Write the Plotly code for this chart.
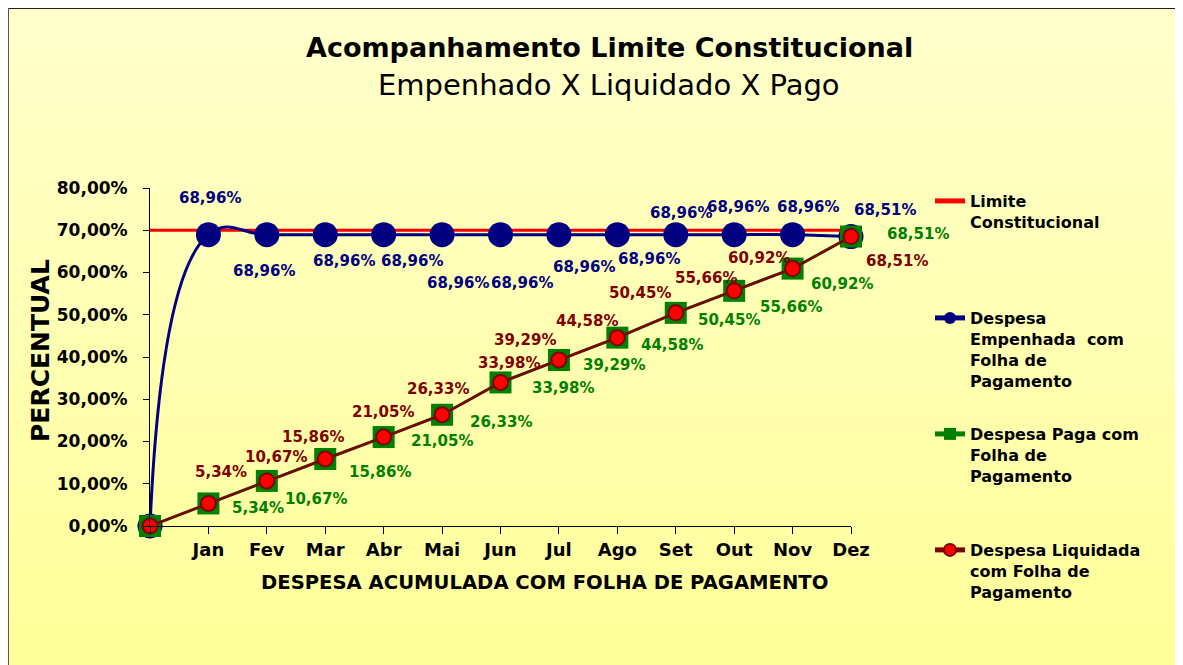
import plotly.graph_objects as go

# ---------------- data ----------------
months = ["", "Jan", "Fev", "Mar", "Abr", "Mai", "Jun", "Jul", "Ago", "Set", "Out", "Nov", "Dez"]
limite = [70.0] * 13
empenhada = [0.0, 68.96, 68.96, 68.96, 68.96, 68.96, 68.96, 68.96, 68.96, 68.96, 68.96, 68.96, 68.51]
paga = [0.0, 5.34, 10.67, 15.86, 21.05, 26.33, 33.98, 39.29, 44.58, 50.45, 55.66, 60.92, 68.51]
liquidada = [0.0, 5.34, 10.67, 15.86, 21.05, 26.33, 33.98, 39.29, 44.58, 50.45, 55.66, 60.92, 68.51]
y_ticks = [0, 10, 20, 30, 40, 50, 60, 70, 80]

# label offsets (pixels: dx right, dy down) for months Jan..Dez
emp_off = [(2, -37), (-3, 36), (19, 26), (28, 26), (16, 48), (21, 48), (25, 32), (32, 24),
           (5, -22), (4, -28), (15, -28), (34, -27)]
liq_off = [(13, -31), (9, -24), (-12, -22), (-1, -25), (-4, -26), (8, -19), (-34, -20),
           (-30, -17), (-36, -20), (-28, -13), (-34, -11), (46, 24)]
pag_off = [(50, 5), (49, 18), (55, 13), (58, 4), (59, 7), (62, 6), (55, 5), (55, 7),
           (53, 7), (57, 16), (49, 15), (67, -3)]

FONT = "DejaVu Sans"
NAVY = "#000080"
GREEN = "#008000"
DRED = "#800000"
RED = "#FF0000"

# page is offset by the default 8px body margin
O = 8
PAGE_W, PAGE_H = 1183, 665
W, H = PAGE_W - O, PAGE_H - O
L, R, T, B = 150 - O, 851 - O, 188 - O, 526 - O


def pct(v):
    return f"{v:.2f}".replace(".", ",") + "%"


xs = list(range(len(months)))

fig = go.Figure()

fig.add_trace(go.Scatter(
    x=xs, y=limite, mode="lines", name="Limite<br>Constitucional",
    line=dict(color=RED, width=3), legend="legend", cliponaxis=False,
    hoverinfo="skip"))

fig.add_trace(go.Scatter(
    x=xs, y=empenhada, mode="lines+markers",
    name="Despesa<br>Empenhada  com<br>Folha de<br>Pagamento",
    line=dict(color=NAVY, width=3, shape="spline", smoothing=1.3),
    marker=dict(symbol="circle", size=25, color=NAVY),
    legend="legend2", cliponaxis=False))

fig.add_trace(go.Scatter(
    x=xs, y=paga, mode="lines+markers",
    name="Despesa Paga com<br>Folha de<br>Pagamento",
    line=dict(color=GREEN, width=3),
    marker=dict(symbol="square", size=22, color=GREEN),
    legend="legend3", cliponaxis=False))

fig.add_trace(go.Scatter(
    x=xs, y=liquidada, mode="lines+markers",
    name="Despesa Liquidada<br>com Folha de<br>Pagamento",
    line=dict(color=DRED, width=2.5),
    marker=dict(symbol="circle", size=15, color=RED, line=dict(color=DRED, width=2)),
    legend="legend4", cliponaxis=False))

annotations = []
for series, offs, col in ((empenhada, emp_off, NAVY), (liquidada, liq_off, DRED), (paga, pag_off, GREEN)):
    for i in range(1, len(series)):
        dx, dy = offs[i - 1]
        annotations.append(dict(
            x=xs[i], y=series[i], xref="x", yref="y", text=pct(series[i]),
            showarrow=False, xshift=dx, yshift=-dy, xanchor="center", yanchor="middle",
            font=dict(family=FONT, size=15, color=col, weight="bold")))

pw, ph = R - L, B - T


def px_x(p):
    # page pixel -> paper coordinate
    return (p - O - L) / pw


def px_y(p):
    return (B - (p - O)) / ph


def page_ann(xp, yp, text, size, angle=0):
    return dict(x=px_x(xp), y=px_y(yp), xref="paper", yref="paper", text=text,
                showarrow=False, xanchor="center", yanchor="middle", textangle=angle,
                font=dict(family=FONT, size=size, color="black"))


annotations.append(page_ann(609, 47, "<b>Acompanhamento Limite Constitucional</b>", 27))
annotations.append(page_ann(609, 85, "Empenhado X Liquidado X Pago", 29))
annotations.append(page_ann(544, 582, "<b>DESPESA ACUMULADA COM FOLHA DE PAGAMENTO</b>", 19.6))
annotations.append(page_ann(40, 351, "<b>PERCENTUAL</b>", 25, -90))

# gradient background bands
shapes = []
N = 60
for k in range(N):
    y0p = O + H * k / N
    y1p = O + H * (k + 1) / N
    t = (k + 0.5) / N
    b = int(round(0xCC + (0x99 - 0xCC) * t))
    shapes.append(dict(type="rect", xref="paper", yref="paper", layer="below",
                       x0=px_x(0), x1=px_x(PAGE_W + 10), y0=px_y(y1p + 1), y1=px_y(y0p - 1),
                       fillcolor=f"rgb(255,255,{b})", line=dict(width=0)))
# frame lines (top, left)
shapes.append(dict(type="line", xref="paper", yref="paper", x0=px_x(7), x1=px_x(PAGE_W + 10),
                   y0=px_y(8), y1=px_y(8), line=dict(color="#222222", width=2)))
shapes.append(dict(type="line", xref="paper", yref="paper", x0=px_x(8), x1=px_x(8),
                   y0=px_y(8), y1=px_y(PAGE_H + 10), line=dict(color="#555555", width=2)))

legend_font = dict(family=FONT, size=16, color="black", weight="bold")


def leg(xpx, ypx):
    return dict(x=(xpx - O) / W, y=1 - (ypx - O) / H, xref="container", yref="container",
                xanchor="left", yanchor="top", font=legend_font, valign="top",
                bgcolor="rgba(0,0,0,0)", itemsizing="constant", borderwidth=0)


fig.update_layout(
    width=W, height=H, autosize=False,
    margin=dict(l=L, r=W - R, t=T, b=H - B, pad=0),
    paper_bgcolor="#FFFF99", plot_bgcolor="rgba(0,0,0,0)",
    showlegend=True,
    legend=leg(930, 184),
    legend2=leg(930, 301),
    legend3=leg(930, 417),
    legend4=leg(930, 533),
    xaxis=dict(range=[0, 12], tickvals=xs, ticktext=months, showgrid=False, zeroline=False,
               showline=True, linecolor="black", linewidth=1, ticks="outside", ticklen=7,
               tickcolor="black", ticklabelstandoff=0,
               tickfont=dict(family=FONT, size=18, color="black", weight="bold")),
    yaxis=dict(range=[0, 80], tickvals=y_ticks, ticktext=[pct(v) for v in y_ticks],
               showgrid=False, zeroline=False, showline=True, linecolor="black", linewidth=1,
               ticks="outside", ticklen=6, tickcolor="black", ticklabelstandoff=12,
               tickfont=dict(family=FONT, size=17, color="black", weight="bold")),
    annotations=annotations,
    shapes=shapes,
    hovermode=False,
)

fig.write_html("out.html")
